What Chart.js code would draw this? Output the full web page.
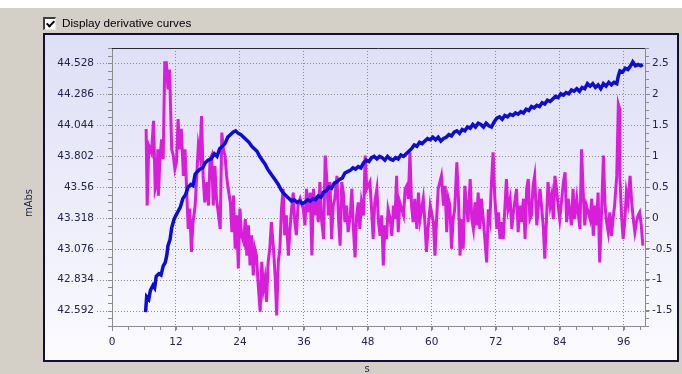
<!DOCTYPE html>
<html>
<head>
<meta charset="utf-8">
<script src="https://cdn.jsdelivr.net/npm/chart.js@4.4.0/dist/chart.umd.min.js"></script>
<style>
  html, body { margin: 0; padding: 0; background: #d4d0c8; }
  #wrap { position: relative; width: 682px; height: 374px; overflow: hidden; }
  #myChart { position: absolute; left: 0; top: 0; }
  #check {
    position: absolute; left: 43px; top: 17px; width: 10px; height: 10px;
    background: #fff; border-style: solid; border-color: #404040 #e8e6e0 #e8e6e0 #404040;
    border-width: 2px 1px 1px 2px;
  }
  #check::after {
    content: ''; position: absolute; left: 3px; top: 0px; width: 3px; height: 6px;
    border: solid #000; border-width: 0 2px 2px 0; transform: rotate(45deg);
  }
  #checkLabel {
    position: absolute; left: 62px; top: 16px;
    font: 11.7px "Liberation Sans", Arial, sans-serif; color: #000;
  }
</style>
</head>
<body>
<div id="wrap">
  <canvas id="myChart" width="682" height="374"></canvas>
  <div id="check"></div>
  <div id="checkLabel">Display derivative curves</div>
</div>
<script>
// tick labels
const xTicks = [0, 12, 24, 36, 48, 60, 72, 84, 96]
const absTicks = [42.592, 42.834, 43.076, 43.318, 43.56, 43.802, 44.044, 44.286, 44.528]
const derivTicks = [-1.5, -1, -0.5, 0, 0.5, 1, 1.5, 2, 2.5]

// absorbance curve (mAbs, left axis)
const absX = [
  6.3, 6.5, 6.9, 7.2, 7.7, 8.0, 8.3, 8.8, 9.2, 9.6,
  10.0, 10.3, 10.5, 10.9, 11.2, 11.6, 11.9, 12.4, 12.8, 13.3,
  13.8, 14.3, 14.8, 15.2, 15.6, 16.0, 16.5, 17.0, 17.5, 18.0,
  18.6, 19.2, 19.7, 20.2, 20.7, 21.2, 21.7, 22.2, 22.7, 23.2,
  23.7, 24.2, 24.7, 25.2, 25.7, 26.2, 26.7, 27.2, 27.7, 28.2,
  28.7, 29.2, 29.7, 30.2, 30.7, 31.2, 31.7, 32.2, 32.7, 33.2,
  33.7, 34.2, 34.7, 35.2, 35.7, 36.2, 36.7, 37.2, 37.7, 38.2,
  38.7, 39.2, 39.7, 40.2, 40.7, 41.2, 41.7, 42.2, 42.7, 43.2,
  43.7, 44.2, 44.7, 45.2, 45.7, 46.2, 46.7, 47.2, 47.7, 48.2,
  48.7, 49.2, 49.7, 50.2, 50.7, 51.2, 51.7, 52.2, 52.7, 53.2,
  53.7, 54.2, 54.7, 55.2, 55.7, 56.2, 56.7, 57.2, 57.7, 58.2,
  58.7, 59.2, 59.7, 60.2, 60.7, 61.2, 61.7, 62.2, 62.7, 63.2,
  63.7, 64.2, 64.7, 65.2, 65.7, 66.2, 66.7, 67.2, 67.7, 68.2,
  68.7, 69.2, 69.7, 70.2, 70.7, 71.2, 71.7, 72.2, 72.7, 73.2,
  73.7, 74.2, 74.7, 75.2, 75.7, 76.2, 76.7, 77.2, 77.7, 78.2,
  78.7, 79.2, 79.7, 80.2, 80.7, 81.2, 81.7, 82.2, 82.7, 83.2,
  83.7, 84.2, 84.7, 85.2, 85.7, 86.2, 86.7, 87.2, 87.7, 88.2,
  88.7, 89.2, 89.7, 90.2, 90.7, 91.2, 91.7, 92.2, 92.7, 93.2,
  93.7, 94.2, 94.7, 95.0, 95.3, 95.8, 96.3, 96.8, 97.3, 97.7,
  98.2, 98.7, 99.2, 99.6
]
const absY = [
  42.58, 42.70, 42.68, 42.75, 42.79, 42.77, 42.86, 42.88, 42.87, 42.94,
  42.97, 43.03, 43.10, 43.15, 43.24, 43.30, 43.33, 43.37, 43.40, 43.47,
  43.50, 43.56, 43.58, 43.57, 43.66, 43.68, 43.70, 43.71, 43.75, 43.77,
  43.78, 43.82, 43.80, 43.86, 43.88, 43.90, 43.95, 43.97, 43.99, 44.00,
  43.98, 43.97, 43.95, 43.93, 43.91, 43.88, 43.86, 43.84, 43.80, 43.77,
  43.74, 43.70, 43.67, 43.64, 43.61, 43.58, 43.54, 43.51, 43.49, 43.47,
  43.45, 43.46, 43.44, 43.45, 43.43, 43.44, 43.46, 43.45, 43.47, 43.46,
  43.49, 43.48, 43.52, 43.53, 43.56, 43.55, 43.59, 43.60, 43.62, 43.63,
  43.67, 43.68, 43.69, 43.71, 43.70, 43.72, 43.71, 43.75, 43.77, 43.76,
  43.79, 43.80, 43.78, 43.80, 43.79, 43.77, 43.80, 43.78, 43.77, 43.79,
  43.78, 43.81, 43.80, 43.82, 43.84, 43.86, 43.89, 43.88, 43.91, 43.90,
  43.92, 43.94, 43.93, 43.95, 43.93, 43.95, 43.92, 43.94, 43.95, 43.97,
  43.96, 43.99, 44.00, 43.98, 44.01, 44.00, 44.03, 44.02, 44.05, 44.03,
  44.06, 44.05, 44.03, 44.06, 44.04, 44.03, 44.07, 44.10, 44.11, 44.09,
  44.12, 44.11, 44.13, 44.12, 44.14, 44.13, 44.15, 44.14, 44.17, 44.16,
  44.19, 44.18, 44.20, 44.19, 44.22, 44.21, 44.24, 44.23, 44.25, 44.27,
  44.26, 44.29, 44.28, 44.30, 44.29, 44.32, 44.31, 44.33, 44.31, 44.34,
  44.33, 44.37, 44.35, 44.37, 44.34, 44.36, 44.33, 44.37, 44.35, 44.38,
  44.36, 44.38, 44.37, 44.43, 44.47, 44.46, 44.49, 44.48, 44.51, 44.54,
  44.51, 44.52, 44.51, 44.52
]

// derivative curve (right axis)
const derivX = [
  6.4, 6.6, 6.9, 7.4, 7.8, 8.1, 8.4, 8.6, 8.7, 9.0,
  9.3, 9.6, 9.9, 10.2, 10.5, 10.8, 11.2, 11.5, 11.8, 12.1,
  12.4, 12.7, 13.0, 13.4, 13.7, 14.0, 14.3, 14.6, 14.9, 15.2,
  15.6, 15.9, 16.2, 16.5, 16.8, 17.1, 17.4, 17.8, 18.1, 18.4,
  18.7, 19.0, 19.3, 19.6, 20.0, 20.3, 20.6, 20.9, 21.2, 21.5,
  21.8, 22.2, 22.5, 22.8, 23.1, 23.4, 23.7, 24.0, 24.3, 24.7,
  25.0, 25.3, 25.6, 25.9, 26.2, 26.5, 26.8, 27.1, 27.4, 27.8,
  28.1, 28.4, 28.7, 29.0, 29.3, 29.6, 29.9, 30.3, 30.6, 30.9,
  31.2, 31.5, 31.8, 32.1, 32.4, 32.7, 33.1, 33.4, 33.7, 34.0,
  34.3, 34.6, 34.9, 35.3, 35.9, 36.2, 36.5, 36.8, 37.2, 37.5,
  37.8, 38.1, 38.4, 38.7, 39.0, 39.3, 39.7, 40.0, 40.3, 40.6,
  40.9, 41.2, 41.5, 41.8, 42.2, 42.5, 42.8, 43.1, 43.4, 43.7,
  44.0, 44.3, 44.7, 45.0, 45.3, 45.6, 45.9, 46.2, 46.5, 46.8,
  47.2, 47.5, 47.8, 48.4, 48.7, 49.0, 49.3, 49.7, 50.0, 50.3,
  50.6, 50.9, 51.2, 51.5, 51.8, 52.2, 52.5, 52.8, 53.1, 53.4,
  53.7, 54.0, 54.7, 55.0, 55.3, 55.6, 55.9, 56.2, 56.5, 56.8,
  57.2, 57.5, 57.8, 58.4, 58.7, 59.0, 59.3, 59.7, 60.3, 60.6,
  60.9, 61.2, 61.8, 62.2, 62.5, 62.8, 63.1, 63.4, 63.7, 64.0,
  64.3, 64.7, 65.0, 65.3, 65.6, 65.9, 66.2, 66.5, 66.8, 67.2,
  67.5, 67.8, 68.1, 68.4, 68.7, 69.0, 69.3, 69.7, 70.3, 70.6,
  70.9, 71.2, 71.5, 71.8, 72.2, 72.5, 72.8, 73.1, 73.4, 74.0,
  74.3, 74.7, 75.0, 75.3, 75.9, 76.2, 76.5, 76.8, 77.2, 77.5,
  77.8, 78.1, 78.4, 78.7, 79.0, 79.3, 79.7, 80.0, 80.3, 80.9,
  81.2, 81.5, 81.8, 82.2, 82.5, 82.8, 83.1, 83.4, 83.7, 84.0,
  84.7, 85.0, 85.3, 85.6, 85.9, 86.2, 86.5, 86.8, 87.2, 87.8,
  88.1, 88.4, 88.7, 89.0, 89.7, 90.0, 90.3, 90.6, 90.9, 91.2,
  91.5, 91.8, 92.2, 92.5, 92.8, 93.1, 93.4, 93.7, 94.0, 94.3,
  94.7, 95.0, 95.2, 95.3, 95.6, 95.9, 96.2, 96.5, 96.8, 97.2,
  97.5, 97.8, 98.1, 98.4, 98.7, 99.0, 99.3, 99.6
]
const derivY = [
  1.44, 0.20, 1.17, 1.06, 1.57, 0.47, 0.58, 1.11, 0.36, 0.95,
  1.27, 0.95, 2.51, 2.51, 2.08, 2.40, 1.11, 1.01, 0.79, 0.90,
  1.60, 1.11, 1.44, 0.68, 1.11, 0.47, -0.18, 0.15, -0.55, -0.07,
  0.20, 0.68, 1.17, 1.01, 1.65, 0.68, 0.25, 0.58, 0.20, 0.95,
  1.01, 0.20, 0.84, 0.31, 0.04, -0.18, 1.38, 1.11, 1.01, 0.68,
  0.47, 0.25, -0.23, 0.36, -0.50, 0.04, -0.82, 0.15, -0.28, -0.39,
  -0.02, -0.61, -0.12, -0.77, -0.28, -0.93, -0.50, -0.61, -1.04, -1.52,
  -0.71, -1.15, -0.98, -1.36, -0.71, -0.50, -0.07, -0.50, -0.93, -1.58,
  -0.71, -0.50, 0.15, 0.47, -0.28, 0.04, -0.61, -0.18, 0.15, 0.41,
  -0.07, -0.28, 0.20, 0.31, 0.14, -0.12, 0.47, 0.09, 0.41, -0.61,
  0.47, 0.04, 0.36, -0.07, 0.58, -0.02, -0.34, 1.01, 0.63, 0.04,
  0.58, -0.34, 0.20, 0.31, 0.68, -0.02, -0.45, 0.58, 0.41, -0.07,
  0.20, -0.23, 0.04, 0.47, -0.18, -0.64, 0.04, 0.25, -0.18, 0.25,
  0.04, 1.01, 0.47, 0.58, 0.14, -0.34, 0.25, 0.47, -0.07, -0.29,
  0.04, -0.77, -0.12, -0.34, 0.14, -0.02, -0.29, 0.20, -0.02, 0.68,
  -0.23, 0.25, 0.04, 0.47, 0.52, 0.31, 1.06, 0.20, -0.07, 0.31,
  -0.18, 0.41, -0.02, 0.31, -0.07, -0.55, -0.18, 0.20, -0.07, -0.61,
  -0.02, 0.47, 0.68, 0.20, 0.52, -0.23, 0.31, 0.20, -0.50, -0.02,
  0.14, 0.90, 0.31, -0.61, -0.02, -0.50, 0.52, 0.20, -0.07, 0.63,
  -0.02, -0.18, 0.25, -0.12, 0.41, -0.18, 0.31, -0.07, -0.72, 0.14,
  -0.02, 0.58, 1.06, 0.36, -0.18, 0.09, -0.34, -0.07, -0.34, 0.63,
  0.14, 0.31, -0.18, 0.09, 0.47, -0.23, 0.20, -0.07, 0.31, -0.34,
  0.47, 0.63, -0.02, 0.04, 0.52, 0.68, -0.12, 0.20, 0.47, -0.12,
  -0.66, -0.07, 0.58, 0.20, 0.36, -0.02, 0.68, 0.47, 0.20, -0.02,
  0.58, 0.74, -0.07, 0.31, 0.09, -0.12, 0.47, -0.02, 0.31, -0.18,
  1.11, 0.41, -0.12, 0.20, -0.02, 0.31, -0.29, 0.20, -0.12, 0.41,
  -0.72, -0.02, 1.01, 0.20, -0.07, -0.23, 0.09, -0.29, -0.02, 0.20,
  0.68, 1.84, 1.78, 0.63, 0.04, -0.34, -0.07, 0.41, 0.25, 0.68,
  0.25, -0.02, -0.23, -0.07, 0.04, 0.09, -0.12, -0.45
]

const absPoints = absX.map((x, i) => ({ x: x, y: absY[i] }))
const derivPoints = derivX.map((x, i) => ({ x: x, y: derivY[i] }))

const tickFont = { family: 'DejaVu Sans', size: 10.5 }
const labelColor = '#24244e'
const gridColor = '#8e8e8e'

// background, frame, grid, minor ticks and axis titles
const panelPlugin = {
  id: 'panel',
  beforeDraw(chart) {
    const c = chart.ctx
    c.save()
    c.fillStyle = '#d4d0c8'
    c.fillRect(0, 0, 682, 374)
    c.fillStyle = '#ffffff'
    c.fillRect(0, 0, 682, 8)
    const g = c.createLinearGradient(0, 35, 0, 361)
    g.addColorStop(0, '#dedef6')
    g.addColorStop(1, '#fbfbff')
    c.fillStyle = g
    c.fillRect(44, 34, 634, 327)
    c.strokeStyle = '#10103a'
    c.lineWidth = 2
    c.strokeRect(44, 34, 634, 327)
    c.restore()
  },
  beforeDatasetsDraw(chart) {
    // dotted horizontal grid + dotted left tick marks, snapped to whole pixels
    const c = chart.ctx
    const a = chart.chartArea
    const sl = chart.scales.yAbs
    c.save()
    c.strokeStyle = gridColor
    c.lineWidth = 1
    c.setLineDash([1, 2])
    c.beginPath()
    absTicks.forEach((v) => {
      const py = Math.round(sl.getPixelForValue(v)) + 0.5
      c.moveTo(a.left - 15, py); c.lineTo(a.right, py)
    })
    c.stroke()
    c.restore()
  },
  afterDraw(chart) {
    const c = chart.ctx
    const a = chart.chartArea
    const sx = chart.scales.x
    const sl = chart.scales.yAbs
    const sr = chart.scales.yDeriv
    c.save()
    c.strokeStyle = '#8c8c8c'
    c.lineWidth = 1
    c.beginPath()
    for (let v = 0; v <= 100; v += 3) {
      const px = Math.round(sx.getPixelForValue(v)) + 0.5
      c.moveTo(px, a.bottom); c.lineTo(px, a.bottom + 4)
    }
    for (let k = -2; k <= 35; k++) {
      const v = absTicks[0] + k * 0.0605
      if (v < sl.min || v > sl.max) continue
      const py = Math.round(sl.getPixelForValue(v)) + 0.5
      c.moveTo(a.left - 4, py); c.lineTo(a.left, py)
    }
    for (let v = -1.75; v <= 2.75; v += 0.125) {
      const py = Math.round(sr.getPixelForValue(v)) + 0.5
      c.moveTo(a.right, py); c.lineTo(a.right + 4, py)
    }
    c.stroke()
    // top border of the plot
    c.strokeStyle = '#2a2a34'
    c.beginPath()
    c.moveTo(a.left, Math.round(a.top) + 0.5)
    c.lineTo(a.right, Math.round(a.top) + 0.5)
    c.stroke()
    // axis titles
    c.fillStyle = labelColor
    c.font = '10px "DejaVu Sans"'
    c.textAlign = 'center'
    c.textBaseline = 'middle'
    c.fillText('s', 367, 369)
    c.translate(29, 203)
    c.rotate(-Math.PI / 2)
    c.fillText('mAbs', 0, 0)
    c.restore()
  }
}

const ctx = document.getElementById('myChart')

const myChart = new Chart(ctx, {
  type: 'line',
  data: {
    datasets: [{
      label: 'mAbs',
      data: absPoints,
      yAxisID: 'yAbs',
      borderColor: '#0c0cd4',
      borderWidth: 3.5,
      pointRadius: 0,
      order: 0,
    }, {
      label: 'derivative',
      data: derivPoints,
      yAxisID: 'yDeriv',
      borderColor: '#d81ed8',
      borderWidth: 3,
      pointRadius: 0,
      order: 1,
    }],
  },
  options: {
    responsive: false,
    animation: false,
    devicePixelRatio: 1,
    layout: { padding: { top: 48, left: 0, right: 0, bottom: 0 } },
    plugins: { legend: { display: false }, tooltip: { enabled: false } },
    scales: {
      x: {
        type: 'linear',
        min: 0,
        max: 100,
        afterBuildTicks: (scale) => { scale.ticks = xTicks.map(v => ({ value: v })) },
        afterFit: (scale) => { scale.height = 48 },
        ticks: { font: tickFont, color: labelColor, padding: 5, maxRotation: 0 },
        grid: { color: gridColor, tickColor: '#8c8c8c', tickLength: 5 },
        border: { color: '#8c8c8c', dash: [1, 2] },
      },
      yAbs: {
        type: 'linear',
        position: 'left',
        min: 42.471,
        max: 44.649,
        afterBuildTicks: (scale) => { scale.ticks = absTicks.map(v => ({ value: v })) },
        afterFit: (scale) => { scale.width = 112 },
        ticks: { font: tickFont, color: labelColor, padding: 18, callback: (v) => String(v) },
        grid: { drawOnChartArea: false, drawTicks: false },
        border: { color: '#8c8c8c' },
      },
      yDeriv: {
        type: 'linear',
        position: 'right',
        min: -1.75,
        max: 2.75,
        afterBuildTicks: (scale) => { scale.ticks = derivTicks.map(v => ({ value: v })) },
        afterFit: (scale) => { scale.width = 37 },
        ticks: { font: tickFont, color: labelColor, padding: 2, callback: (v) => String(v) },
        grid: { drawOnChartArea: false, tickColor: '#8c8c8c', tickLength: 5 },
        border: { color: '#8c8c8c' },
      },
    },
  },
  plugins: [panelPlugin],
})
</script>
</body>
</html>
